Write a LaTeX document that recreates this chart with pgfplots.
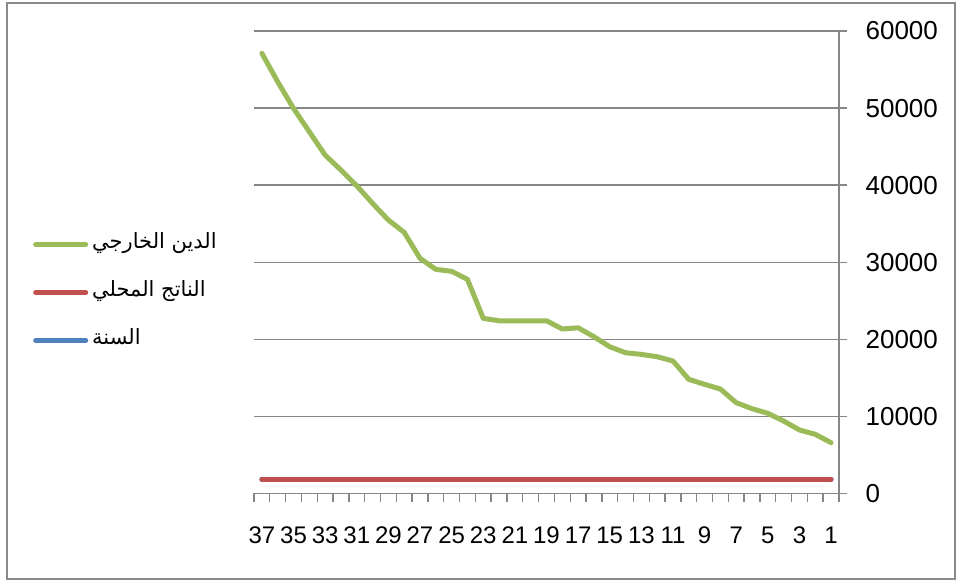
\documentclass[border=0pt]{standalone}
\usepackage{pgfplots}
\pgfplotsset{compat=1.18}
\usepackage{fontspec}
\setmainfont{Liberation Sans}
\newfontfamily\arabicfont[Script=Arabic]{DejaVu Sans}
\TeXXeTstate=1
\definecolor{xlgreen}{HTML}{9BBB59}
\definecolor{xlred}{HTML}{C0504D}
\definecolor{xlblue}{HTML}{4F81BD}
\definecolor{xlgrid}{HTML}{868686}
\definecolor{xlborder}{HTML}{8A8A8A}
\pgfplotstableread{
x debt gdp year
1 6590 1880 1880
2 7680 1880 1880
3 8240 1880 1880
4 9400 1880 1880
5 10400 1880 1880
6 11000 1880 1880
7 11780 1880 1880
8 13550 1880 1880
9 14160 1880 1880
10 14810 1880 1880
11 17190 1880 1880
12 17740 1880 1880
13 18050 1880 1880
14 18260 1880 1880
15 19040 1880 1880
16 20340 1880 1880
17 21500 1880 1880
18 21340 1880 1880
19 22410 1880 1880
20 22410 1880 1880
21 22410 1880 1880
22 22410 1880 1880
23 22720 1880 1880
24 27780 1880 1880
25 28820 1880 1880
26 29080 1880 1880
27 30510 1880 1880
28 33880 1880 1880
29 35470 1880 1880
30 37640 1880 1880
31 39920 1880 1880
32 41960 1880 1880
33 43900 1880 1880
34 46930 1880 1880
35 49960 1880 1880
36 53410 1880 1880
37 57100 1880 1880
}\datatable
\begin{document}
\begin{tikzpicture}[x=1pt,y=1pt]
\useasboundingbox (-254,-89.5) rectangle (708,493.5);
\draw[xlborder, line width=2pt] (-246.5,-85.5) rectangle (700.5,490.5);
\begin{axis}[
  at={(0,0)}, anchor=south west,
  scale only axis, width=585pt, height=462.5pt,
  x dir=reverse,
  xmin=0.5, xmax=37.5, ymin=0, ymax=60000,
  axis x line*=bottom, axis y line*=right,
  axis line style={xlgrid, line width=1.4pt},
  xtick={1,3,...,37},
  minor xtick={0.5,1.5,...,37.5},
  ytick={0,10000,...,60000},
  tick align=outside,
  major tick length=8.4pt,
  minor tick length=8.4pt,
  every tick/.style={xlgrid, line width=1.4pt},
  major x tick style={draw=none},
  ymajorgrids,
  grid style={xlgrid, line width=1.4pt},
  /pgf/number format/assume math mode=true,
  scaled y ticks=false,
  yticklabel style={/pgf/number format/fixed, /pgf/number format/1000 sep={}, anchor=west, inner sep=0pt, xshift=18pt, font=\fontsize{26}{30}\selectfont},
  xticklabel style={anchor=base, inner sep=0pt, yshift=-41.5pt, font=\fontsize{24}{28}\selectfont},
  reverse legend,
  legend cell align=left,
  legend image code/.code={\draw[#1,line cap=round] (0pt,0pt) -- (50pt,0pt);},
  legend style={at={(-0.3778,0.4346)}, anchor=west, draw=none, fill=none,
    inner sep=0pt, row sep=28pt, column sep=4pt,
    nodes={inner sep=0pt, text height=14pt, text depth=6pt,
      font=\arabicfont\fontsize{21}{25}\selectfont}},
]
\addplot[xlblue, line width=5pt, line cap=round, line join=round] table[x=x, y=year] {\datatable};
\addlegendentry{\beginR السنة\endR}
\addplot[xlred, line width=5pt, line cap=round, line join=round] table[x=x, y=gdp] {\datatable};
\addlegendentry{\beginR الناتج المحلي\endR}
\addplot[xlgreen, line width=5pt, line cap=round, line join=round] table[x=x, y=debt] {\datatable};
\addlegendentry{\beginR الدين الخارجي\endR}
\end{axis}
\end{tikzpicture}
\end{document}
